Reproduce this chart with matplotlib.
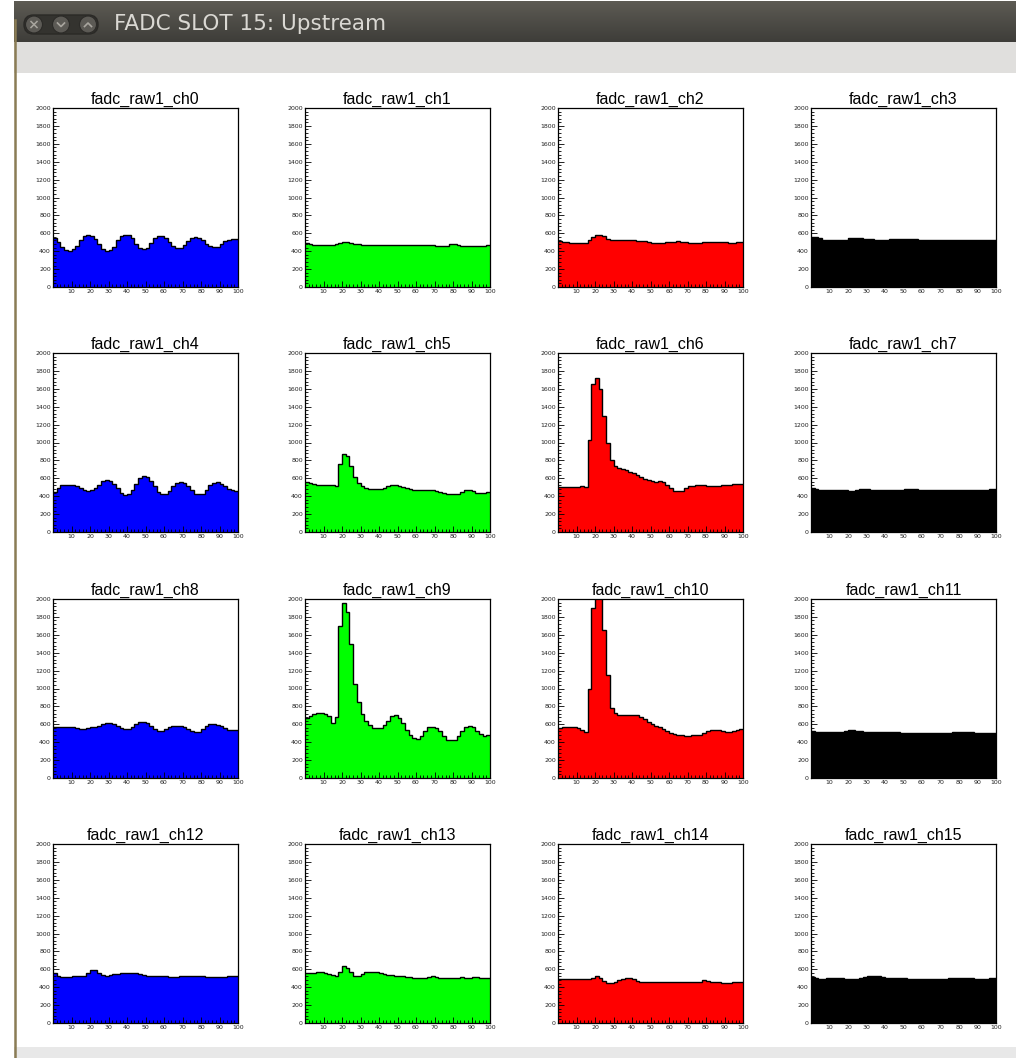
import numpy as np
import matplotlib
matplotlib.use("Agg")
from matplotlib import pyplot as plt
from matplotlib.patches import Rectangle, Circle, FancyBboxPatch
from matplotlib.colors import LinearSegmentedColormap
from matplotlib.ticker import MultipleLocator

# bin edges: 50 bins of width 2 on 0..100
edges = np.arange(0, 101, 2)

ch0 = [545, 500, 450, 415, 405, 420, 460, 520, 565, 580, 570, 535, 480, 430, 405, 410, 450, 520, 575, 585,
       580, 545, 485, 435, 420, 440, 490, 545, 570, 570, 545, 500, 455, 435, 440, 465, 510, 545, 555, 545,
       520, 485, 455, 445, 450, 475, 510, 530, 540, 540]
ch1 = [490, 485, 470, 470, 465, 470, 465, 470, 475, 490, 500, 500, 495, 485, 480, 470, 470, 470, 470, 470,
       470, 470, 470, 470, 470, 470, 465, 470, 465, 470, 470, 470, 470, 470, 465, 460, 460, 460, 460, 475,
       475, 465, 460, 460, 460, 460, 460, 460, 460, 470]
ch2 = [515, 505, 500, 495, 490, 490, 490, 495, 520, 560, 580, 580, 565, 540, 525, 520, 520, 530, 525, 520,
       520, 515, 510, 510, 505, 495, 495, 495, 495, 505, 505, 505, 510, 505, 505, 495, 495, 495, 495, 505,
       505, 505, 505, 505, 505, 500, 495, 495, 505, 505]
ch3 = [560, 555, 545, 530, 525, 520, 520, 520, 520, 525, 545, 545, 545, 545, 535, 535, 535, 525, 520, 520,
       520, 535, 535, 535, 535, 535, 535, 535, 535, 525, 520, 520, 520, 520, 520, 520, 520, 520, 520, 520,
       520, 520, 520, 530, 530, 530, 530, 525, 520, 520]
ch4 = [450, 490, 520, 530, 530, 525, 510, 490, 470, 460, 470, 490, 530, 565, 580, 575, 540, 490, 440, 410,
       420, 470, 540, 600, 625, 615, 570, 510, 450, 420, 425, 460, 510, 550, 560, 545, 510, 465, 430, 420,
       430, 470, 520, 550, 555, 540, 510, 480, 465, 460]
ch5 = [560, 545, 535, 530, 530, 530, 530, 525, 515, 760, 870, 850, 740, 620, 545, 510, 495, 485, 475, 475,
       480, 495, 510, 520, 520, 515, 505, 495, 480, 470, 470, 470, 470, 470, 465, 460, 450, 440, 425, 420,
       420, 425, 445, 465, 465, 455, 440, 440, 435, 450]
ch6 = [500, 500, 500, 500, 500, 505, 510, 500, 1030, 1650, 1720, 1600, 1300, 1000, 800, 740, 710, 700, 690, 670,
       655, 640, 615, 595, 580, 570, 560, 570, 560, 530, 490, 460, 455, 460, 490, 510, 515, 520, 520, 520,
       510, 510, 510, 515, 520, 525, 530, 540, 540, 535]
ch7 = [490, 485, 470, 470, 470, 470, 470, 470, 470, 465, 460, 460, 465, 475, 475, 475, 470, 465, 465, 465,
       465, 465, 465, 465, 470, 475, 480, 480, 475, 470, 470, 470, 470, 470, 470, 470, 470, 470, 470, 470,
       465, 465, 465, 465, 465, 465, 465, 470, 475, 475]
ch8 = [575, 565, 565, 565, 565, 565, 560, 550, 550, 560, 570, 575, 585, 600, 612, 612, 600, 580, 560, 550,
       550, 575, 605, 622, 625, 610, 580, 550, 530, 530, 545, 570, 585, 585, 580, 565, 545, 525, 510, 515,
       545, 580, 600, 600, 595, 580, 555, 540, 535, 535]
ch9 = [665, 690, 715, 730, 730, 720, 690, 610, 680, 1700, 1950, 1850, 1500, 1050, 850, 720, 640, 590, 560, 555,
       560, 590, 640, 690, 700, 670, 610, 540, 480, 445, 440, 470, 520, 565, 575, 560, 520, 470, 430, 420,
       430, 470, 530, 575, 580, 570, 530, 490, 470, 485]
ch10 = [560, 570, 570, 570, 570, 560, 540, 510, 1000, 1900, 2150, 2150, 1650, 1150, 780, 730, 700, 700, 700, 700,
        700, 700, 680, 660, 630, 600, 585, 565, 545, 520, 500, 495, 485, 480, 470, 470, 480, 480, 480, 500,
        520, 535, 540, 540, 530, 515, 510, 520, 535, 550]
ch11 = [520, 515, 510, 510, 510, 510, 510, 510, 510, 520, 540, 540, 530, 520, 515, 510, 510, 510, 510, 510,
        510, 510, 510, 510, 505, 500, 500, 500, 500, 500, 500, 500, 500, 500, 500, 500, 500, 505, 510, 510,
        510, 510, 510, 510, 505, 500, 500, 500, 500, 505]
ch12 = [555, 525, 515, 515, 515, 520, 520, 520, 530, 560, 595, 590, 560, 535, 530, 540, 550, 550, 555, 555,
        560, 560, 555, 545, 535, 525, 520, 520, 520, 520, 520, 515, 510, 515, 520, 525, 530, 530, 530, 525,
        520, 515, 515, 510, 510, 510, 515, 525, 530, 530]
ch13 = [560, 560, 560, 565, 570, 560, 550, 540, 530, 570, 640, 620, 565, 530, 525, 545, 565, 570, 570, 570,
        560, 550, 540, 535, 530, 525, 525, 515, 510, 505, 500, 500, 500, 515, 520, 510, 505, 500, 500, 500,
        500, 505, 510, 505, 505, 510, 515, 505, 500, 500]
ch14 = [490, 490, 490, 490, 490, 490, 490, 490, 490, 500, 520, 500, 470, 450, 445, 455, 480, 495, 505, 505,
        490, 470, 460, 460, 460, 460, 460, 460, 460, 460, 460, 460, 460, 460, 460, 460, 460, 460, 460, 475,
        465, 460, 460, 455, 445, 445, 445, 455, 460, 460]
ch15 = [510, 500, 495, 495, 500, 505, 505, 505, 500, 495, 495, 495, 495, 505, 515, 520, 520, 520, 520, 515,
        505, 505, 505, 505, 505, 500, 495, 490, 490, 490, 490, 490, 490, 490, 490, 490, 495, 505, 505, 505,
        505, 505, 505, 500, 490, 490, 490, 495, 505, 505]

channels = [ch0, ch1, ch2, ch3, ch4, ch5, ch6, ch7, ch8, ch9, ch10, ch11, ch12, ch13, ch14, ch15]
names = ["fadc_raw1_ch%d" % i for i in range(16)]
col_colors = ["#0000ff", "#00ff00", "#ff0000", "#000000"]
window_title = "FADC SLOT 15: Upstream"

W, H = 1016, 1058
fig = plt.figure(figsize=(W / 100, H / 100), dpi=100)
fig.patch.set_facecolor("white")

# window decoration (pixel coordinates)
bg = fig.add_axes([0, 0, 1, 1], zorder=-5)
bg.axis("off")

grad = np.linspace(0, 1, 64).reshape(-1, 1)
cmap_bar = LinearSegmentedColormap.from_list("bar", ["#5d5b54", "#3e3d39"])
bg.imshow(grad, cmap=cmap_bar, extent=[14, W, 42, 1], aspect="auto", zorder=1)
bg.add_patch(Rectangle((14, 42), W - 14, 31, facecolor="#e0dfdd", edgecolor="none", zorder=1))
bg.add_patch(Rectangle((14, 1047), W - 14, 11, facecolor="#e8e8e8", edgecolor="none", zorder=1))
bg.plot([15, 15], [20, H], color="#8a7c55", lw=1.8, zorder=2)
bg.set_xlim(0, W)
bg.set_ylim(H, 0)

bg.add_patch(FancyBboxPatch((24, 15), 74, 19, boxstyle="round,pad=0,rounding_size=9.5",
                            facecolor="#34332f", edgecolor="#2a2926", zorder=2))
for cx in [34, 61, 88]:
    bg.add_patch(Circle((cx, 24.5), 8.5, facecolor="#5c5a55", edgecolor="#2c2b28", lw=0.8, zorder=3))
sym = "#a9a69f"
bg.plot([31, 37], [21.5, 27.5], color=sym, lw=1.1, zorder=4)
bg.plot([31, 37], [27.5, 21.5], color=sym, lw=1.1, zorder=4)
bg.plot([57.5, 61, 64.5], [23, 26.5, 23], color=sym, lw=1.2, zorder=4)
bg.plot([84.5, 88, 91.5], [26.5, 23, 26.5], color=sym, lw=1.2, zorder=4)
bg.text(114, 24, window_title, color="#dad8d3", fontsize=15.5, family="DejaVu Sans",
        va="center", ha="left", zorder=4)

# histogram pads
col_left = [53, 305, 558, 811]
row_top = [108, 353, 599, 844]
pw, ph = 185, 179

for i, vals in enumerate(channels):
    r, c = divmod(i, 4)
    ax = fig.add_axes([col_left[c] / W, (H - row_top[r] - ph) / H, pw / W, ph / H])
    ax.stairs(vals, edges, fill=True, facecolor=col_colors[c], edgecolor="none", baseline=0)
    ax.stairs(vals, edges, color="black", lw=1.0, baseline=None)
    ax.set_xlim(0, 100)
    ax.set_ylim(0, 2000)
    ax.set_xticks(range(10, 101, 10))
    ax.set_yticks(range(0, 2001, 200))
    ax.xaxis.set_minor_locator(MultipleLocator(2))
    ax.yaxis.set_minor_locator(MultipleLocator(40))
    ax.tick_params(which="both", direction="in", width=0.6, labelsize=4.5, pad=1.5,
                   top=False, right=False, labelcolor="#222222")
    ax.tick_params(which="major", length=4.5)
    ax.tick_params(which="minor", length=2.2)
    for sp in ax.spines.values():
        sp.set_linewidth(0.9)
    ax.set_title(names[i], fontsize=11.5, pad=3, family="Liberation Sans")

fig.savefig("out.png", dpi=100)
